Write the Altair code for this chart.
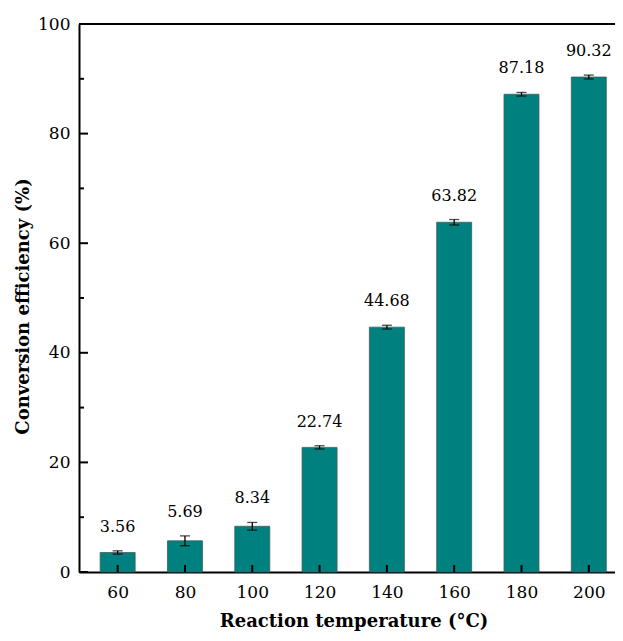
import altair as alt
import pandas as pd

temps = [60, 80, 100, 120, 140, 160, 180, 200]
efficiency = [3.56, 5.69, 8.34, 22.74, 44.68, 63.82, 87.18, 90.32]
errors = [0.3, 0.9, 0.7, 0.3, 0.35, 0.5, 0.33, 0.36]
labels = ["3.56", "5.69", "8.34", "22.74", "44.68", "63.82", "87.18", "90.32"]
y_major = [0, 20, 40, 60, 80, 100]
y_minor = [10, 30, 50, 70, 90]

W, H = 536, 548
FONT = "DejaVu Serif"

df = pd.DataFrame({"t": temps, "e": efficiency, "err": errors, "lab": labels})
df["lo"] = df["e"] - df["err"]
df["hi"] = df["e"] + df["err"]

xs = alt.Scale(domain=[50, 206.3], nice=False, zero=False)
ys = alt.Scale(domain=[0, 100], nice=False)

xaxis = alt.Axis(values=temps, ticks=False, grid=False, domainColor="black", domainWidth=2,
                 labelFont=FONT, labelFontSize=17, labelColor="black", labelPadding=12,
                 title="Reaction temperature (\u00b0C)", titleFont=FONT, titleFontSize=18,
                 titleFontWeight="bold", titleColor="black", titlePadding=12, titleX=274.5)
yaxis = alt.Axis(values=y_major, ticks=False, grid=False, domainColor="black", domainWidth=2,
                 labelFont=FONT, labelFontSize=17, labelColor="black", labelPadding=9,
                 title="Conversion efficiency (%)", titleFont=FONT, titleFontSize=18,
                 titleFontWeight="bold", titleColor="black", titlePadding=5, titleY=282)

bars = alt.Chart(df).mark_bar(size=35, color="#00807e", stroke="#3d5f5f", strokeWidth=0.8).encode(
    x=alt.X("t:Q", scale=xs, axis=xaxis),
    y=alt.Y("e:Q", scale=ys, axis=yaxis),
)
err_rule = alt.Chart(df).mark_rule(color="black", strokeWidth=1.3).encode(
    x=alt.X("t:Q", scale=xs), y=alt.Y("lo:Q", scale=ys), y2="hi:Q")
cap_hi = alt.Chart(df).mark_tick(color="black", thickness=1.3, size=10, orient="horizontal").encode(
    x=alt.X("t:Q", scale=xs), y=alt.Y("hi:Q", scale=ys))
cap_lo = alt.Chart(df).mark_tick(color="black", thickness=1.3, size=10, orient="horizontal").encode(
    x=alt.X("t:Q", scale=xs), y=alt.Y("lo:Q", scale=ys))
text = alt.Chart(df).mark_text(font=FONT, fontSize=16, color="black", baseline="alphabetic", dy=-19).encode(
    x=alt.X("t:Q", scale=xs), y=alt.Y("hi:Q", scale=ys), text="lab:N")

ymaj = alt.Chart(pd.DataFrame({"v": y_major})).mark_rule(color="black", strokeWidth=2).encode(
    y=alt.Y("v:Q", scale=ys), x=alt.value(0), x2=alt.value(9))
ymin = alt.Chart(pd.DataFrame({"v": y_minor})).mark_rule(color="black", strokeWidth=2).encode(
    y=alt.Y("v:Q", scale=ys), x=alt.value(0), x2=alt.value(5))
xmaj = alt.Chart(pd.DataFrame({"v": temps})).mark_rule(color="black", strokeWidth=2).encode(
    x=alt.X("v:Q", scale=xs), y=alt.value(H), y2=alt.value(H - 7))
top = alt.Chart(pd.DataFrame({"v": [0]})).mark_rule(color="black", strokeWidth=2).encode(
    y=alt.value(0), x=alt.value(0), x2=alt.value(W))

chart = alt.layer(bars, err_rule, cap_hi, cap_lo, text, ymaj, ymin, xmaj, top).properties(
    width=W, height=H,
    autosize=alt.AutoSizeParams(type="none"),
    padding={"left": 71, "top": 16, "right": 0, "bottom": 61},
).configure_view(stroke=None).configure(background="white")

chart.save("out.html", embed_options={"renderer": "svg", "actions": False})
